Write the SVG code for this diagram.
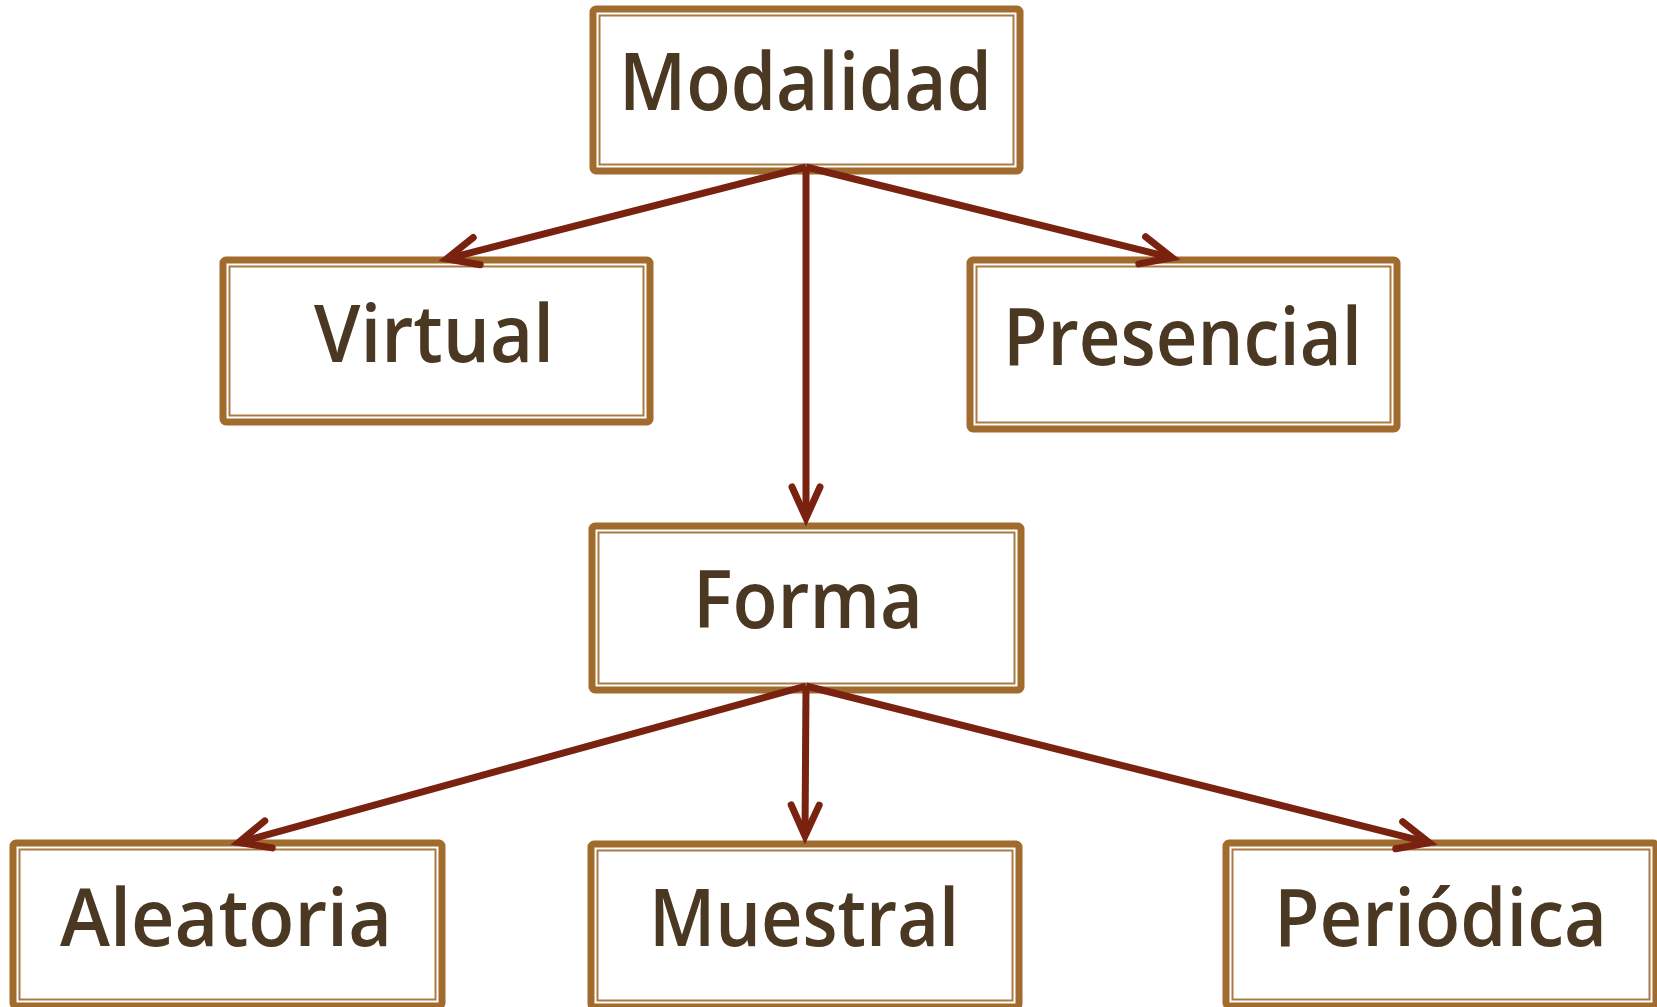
<svg xmlns="http://www.w3.org/2000/svg" width="1657" height="1007" viewBox="0 0 1657 1007">
<style>
.outer{fill:#ffffff;stroke:#a06b2c;stroke-width:7}
.inner{fill:none;stroke:#a87a44;stroke-width:2}
.lbl{font-family:"Open Sans","Liberation Sans",sans-serif;font-weight:600;font-size:80px;fill:#4a3823}
.conn{fill:none;stroke:#78220f;stroke-width:7;marker-end:url(#ah)}
</style>
<defs>
<marker id="ah" markerUnits="userSpaceOnUse" orient="auto" overflow="visible" refX="0" refY="0" markerWidth="1" markerHeight="1">
<path d="M-31,-14 L0,0 L-31,14" fill="none" stroke="#78220f" stroke-width="7" stroke-linecap="round" stroke-linejoin="miter"/>
</marker>
</defs>
<rect width="1657" height="1007" fill="#ffffff"/>
<g id="modalidad">
<rect class="outer" x="593" y="9" width="427" height="162" rx="3"/>
<rect class="inner" x="599.5" y="15.5" width="414" height="149"/>
<text class="lbl" x="619" y="110" textLength="373" lengthAdjust="spacingAndGlyphs">Modalidad</text>
</g>
<g id="virtual">
<rect class="outer" x="223" y="260" width="427" height="162" rx="3"/>
<rect class="inner" x="229.5" y="266.5" width="414" height="149"/>
<text class="lbl" x="314" y="362" textLength="240" lengthAdjust="spacingAndGlyphs">Virtual</text>
</g>
<g id="presencial">
<rect class="outer" x="970" y="260" width="427" height="169" rx="3"/>
<rect class="inner" x="976.5" y="266.5" width="414" height="156"/>
<text class="lbl" x="1003" y="365" textLength="359" lengthAdjust="spacingAndGlyphs">Presencial</text>
</g>
<g id="forma">
<rect class="outer" x="592" y="526" width="429" height="164" rx="3"/>
<rect class="inner" x="598.5" y="532.5" width="416" height="151"/>
<text class="lbl" x="693" y="628" textLength="230" lengthAdjust="spacingAndGlyphs">Forma</text>
</g>
<g id="aleatoria">
<rect class="outer" x="13" y="843" width="429" height="163" rx="3"/>
<rect class="inner" x="19.5" y="849.5" width="416" height="150"/>
<text class="lbl" x="60" y="946" textLength="332" lengthAdjust="spacingAndGlyphs">Aleatoria</text>
</g>
<g id="muestral">
<rect class="outer" x="591" y="844" width="428" height="163" rx="3"/>
<rect class="inner" x="597.5" y="850.5" width="415" height="150"/>
<text class="lbl" x="649" y="946" textLength="310" lengthAdjust="spacingAndGlyphs">Muestral</text>
</g>
<g id="periodica">
<rect class="outer" x="1226" y="843" width="430" height="163" rx="3"/>
<rect class="inner" x="1232.5" y="849.5" width="417" height="150"/>
<text class="lbl" x="1274" y="946" textLength="333" lengthAdjust="spacingAndGlyphs">Periódica</text>
</g>
<g id="connectors">
<line class="conn" x1="806" y1="167" x2="446.7" y2="258.8"/>
<line class="conn" x1="806" y1="167" x2="806" y2="518"/>
<line class="conn" x1="806" y1="167" x2="1172.3" y2="257.8"/>
<line class="conn" x1="806" y1="686" x2="238.6" y2="842.6"/>
<line class="conn" x1="806" y1="686" x2="805" y2="836"/>
<line class="conn" x1="806" y1="686" x2="1429.3" y2="842.8"/>
</g>
</svg>
